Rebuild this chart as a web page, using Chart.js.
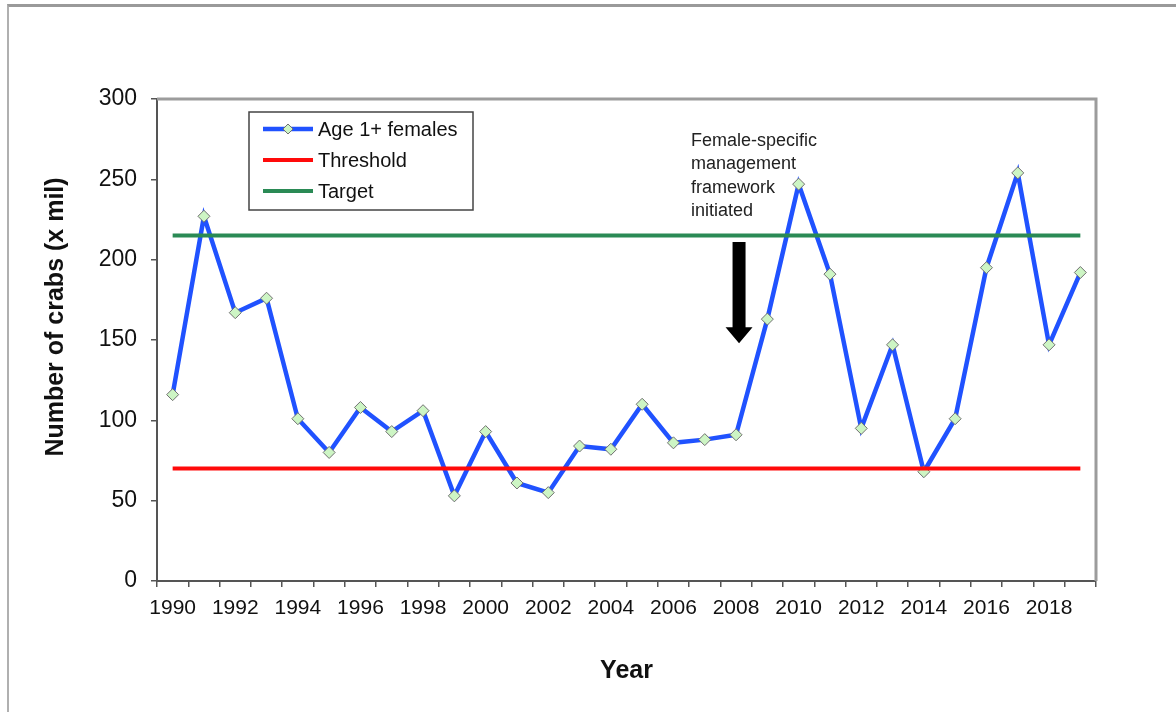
<!DOCTYPE html>
<html>
<head>
<meta charset="utf-8">
<script src="https://cdn.jsdelivr.net/npm/chart.js@4/dist/chart.umd.min.js"></script>
<style>
  html, body { margin: 0; padding: 0; background: #fff; }
  #wrap { position: relative; width: 1176px; height: 712px; overflow: hidden; }
  #frame {
    position: absolute; left: 7px; top: 4px; width: 1200px; height: 720px;
    border-left: 2px solid #b0b0b0; border-top: 3px solid #9a9a9a;
    pointer-events: none;
  }
  canvas { position: absolute; left: 0; top: 0; }
</style>
</head>
<body>
<div id="wrap">
  <canvas id="crab-chart" width="1176" height="712"></canvas>
  <div id="frame"></div>
</div>
<script>
// Survey years (x categories)
const years = [
  '1990', '1991', '1992', '1993', '1994', '1995', '1996', '1997', '1998', '1999',
  '2000', '2001', '2002', '2003', '2004', '2005', '2006', '2007', '2008', '2009',
  '2010', '2011', '2012', '2013', '2014', '2015', '2016', '2017', '2018', '2019',
];

// Age 1+ female abundance (millions)
const femaleAbundance = [
  116, 227, 167, 176, 101, 80, 108, 93, 106, 53,
  93, 61, 55, 84, 82, 110, 86, 88, 91, 163,
  247, 191, 95, 147, 68, 101, 195, 254, 147, 192,
];

// Reference levels
const thresholdLevel = 70;
const targetLevel = 215;

// Y axis ticks
const yTicks = [0, 50, 100, 150, 200, 250, 300];

// Annotation: arrow at the year management changed
const arrowYear = '2008';
const arrowFrom = 211;
const arrowTo = 148;
const noteLines = ['Female-specific', 'management', 'framework', 'initiated'];

const FONT = "'Liberation Sans', Arial, sans-serif";

// Draws top/right plot border, legend box, y title and the arrow note
const decorations = {
  id: 'decorations',
  afterDraw(chart) {
    const { ctx, chartArea, scales } = chart;
    ctx.save();

    // plot area border on top and right
    ctx.strokeStyle = '#9c9c9c';
    ctx.lineWidth = 3;
    ctx.beginPath();
    ctx.moveTo(chartArea.left, chartArea.top);
    ctx.lineTo(chartArea.right, chartArea.top);
    ctx.lineTo(chartArea.right, chartArea.bottom);
    ctx.stroke();

    // y axis title
    ctx.fillStyle = '#111';
    ctx.font = 'bold 25px ' + FONT;
    ctx.textAlign = 'center';
    ctx.textBaseline = 'middle';
    ctx.translate(56, (chartArea.top + chartArea.bottom) / 2 - 23);
    ctx.rotate(-Math.PI / 2);
    ctx.fillText('Number of crabs (x mil)', 0, 0);
    ctx.setTransform(1, 0, 0, 1, 0, 0);

    // legend box
    const bx = chartArea.left + 92;
    const by = chartArea.top + 13;
    ctx.fillStyle = '#fff';
    ctx.fillRect(bx, by, 224, 98);
    ctx.strokeStyle = '#444';
    ctx.lineWidth = 1.5;
    ctx.strokeRect(bx, by, 224, 98);
    const rowY = [by + 17, by + 48, by + 79];
    ctx.font = '20px ' + FONT;
    ctx.textAlign = 'left';
    ctx.textBaseline = 'middle';
    chart.data.datasets.forEach((ds, i) => {
      const y = rowY[i];
      ctx.strokeStyle = ds.borderColor;
      ctx.lineWidth = ds.borderWidth;
      ctx.beginPath();
      ctx.moveTo(bx + 14, y);
      ctx.lineTo(bx + 64, y);
      ctx.stroke();
      if (ds.pointRadius > 0) {
        ctx.fillStyle = ds.pointBackgroundColor;
        ctx.strokeStyle = ds.pointBorderColor;
        ctx.lineWidth = 1;
        ctx.beginPath();
        ctx.moveTo(bx + 39, y - 5);
        ctx.lineTo(bx + 44, y);
        ctx.lineTo(bx + 39, y + 5);
        ctx.lineTo(bx + 34, y);
        ctx.closePath();
        ctx.fill();
        ctx.stroke();
      }
      ctx.fillStyle = '#111';
      ctx.fillText(ds.label, bx + 69, y + 1);
    });

    // arrow
    const ax = scales.x.getPixelForValue(years.indexOf(arrowYear)) + 3;
    const ay0 = scales.y.getPixelForValue(arrowFrom);
    const ay1 = scales.y.getPixelForValue(arrowTo);
    ctx.fillStyle = '#000';
    ctx.beginPath();
    ctx.moveTo(ax - 6.5, ay0);
    ctx.lineTo(ax + 6.5, ay0);
    ctx.lineTo(ax + 6.5, ay1 - 16);
    ctx.lineTo(ax + 13.5, ay1 - 16);
    ctx.lineTo(ax, ay1);
    ctx.lineTo(ax - 13.5, ay1 - 16);
    ctx.lineTo(ax - 6.5, ay1 - 16);
    ctx.closePath();
    ctx.fill();

    // note text above the arrow
    ctx.fillStyle = '#222';
    ctx.font = '18px ' + FONT;
    ctx.textAlign = 'left';
    ctx.textBaseline = 'middle';
    noteLines.forEach((line, i) => {
      ctx.fillText(line, ax - 48, ay0 - 101 + i * 23.5);
    });

    ctx.restore();
  },
};

const ctx = document.getElementById('crab-chart').getContext('2d');

const crabChart = new Chart(ctx, {
  type: 'line',
  data: {
    labels: years,
    datasets: [
      {
        label: 'Age 1+ females',
        data: femaleAbundance,
        borderColor: '#2052ff',
        borderWidth: 4.5,
        pointStyle: 'rectRot',
        pointRadius: 6,
        pointBackgroundColor: '#cdf5c4',
        pointBorderColor: '#707070',
        pointBorderWidth: 1,
        tension: 0,
        order: 2,
      },
      {
        label: 'Threshold',
        data: [
          { x: years[0], y: thresholdLevel },
          { x: years[years.length - 1], y: thresholdLevel },
        ],
        borderColor: '#ff0a0a',
        borderWidth: 4,
        pointRadius: 0,
        order: 1,
      },
      {
        label: 'Target',
        data: [
          { x: years[0], y: targetLevel },
          { x: years[years.length - 1], y: targetLevel },
        ],
        borderColor: '#2a8a55',
        borderWidth: 4,
        pointRadius: 0,
        order: 1,
      },
    ],
  },
  options: {
    responsive: false,
    animation: false,
    layout: { padding: { top: 99, right: 80, left: 0, bottom: 0 } },
    plugins: {
      legend: { display: false },
      tooltip: { enabled: false },
    },
    scales: {
      x: {
        type: 'category',
        offset: true,
        afterFit(scale) { scale.height = 131; },
        grid: {
          display: true,
          offset: true,
          drawOnChartArea: false,
          drawTicks: true,
          tickLength: 6,
          color: '#555',
          lineWidth: 1.5,
        },
        border: { display: true, color: '#555', width: 2 },
        ticks: {
          autoSkip: false,
          maxRotation: 0,
          minRotation: 0,
          padding: 9,
          color: '#111',
          font: { family: FONT, size: 21 },
          callback(value, index) {
            return index % 2 === 0 ? years[index] : '';
          },
        },
        title: {
          display: true,
          text: 'Year',
          color: '#111',
          font: { family: FONT, size: 25, weight: 'bold' },
          padding: { top: 0, bottom: 26 },
        },
      },
      y: {
        min: yTicks[0],
        max: yTicks[yTicks.length - 1],
        afterFit(scale) { scale.width = 157; },
        afterBuildTicks(scale) {
          scale.ticks = yTicks.map((v) => ({ value: v }));
        },
        grid: {
          display: true,
          drawOnChartArea: false,
          drawTicks: true,
          tickLength: 6,
          color: '#555',
          lineWidth: 1.5,
        },
        border: { display: true, color: '#555', width: 2 },
        ticks: {
          padding: 14,
          color: '#111',
          font: { family: FONT, size: 23 },
        },
      },
    },
  },
  plugins: [decorations],
});
</script>
</body>
</html>
